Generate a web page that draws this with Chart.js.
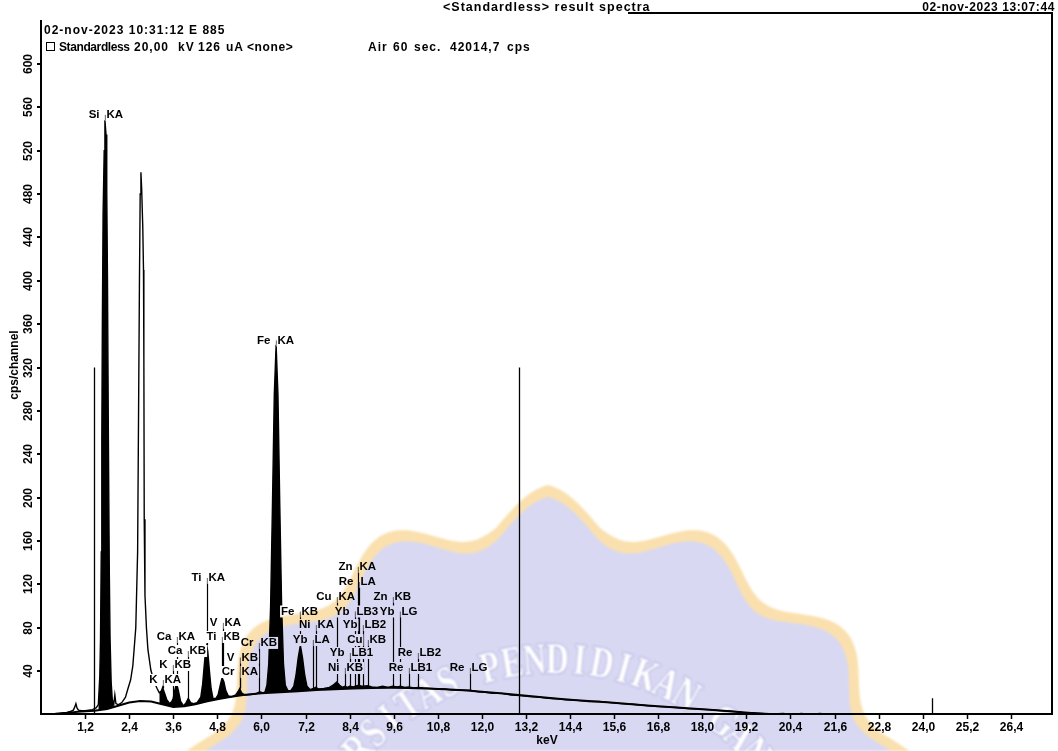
<!DOCTYPE html>
<html>
<head>
<meta charset="utf-8">
<title>Standardless result spectra</title>
<script src="https://cdn.jsdelivr.net/npm/chart.js@4.4.0/dist/chart.umd.min.js"></script>
<style>
  html, body { margin: 0; padding: 0; background: #fff; }
  #wrap { width: 1058px; height: 751px; }
</style>
</head>
<body>
<div id="wrap"><canvas id="spectrum" width="1058" height="751"></canvas></div>
<script>
// Measured spectrum: energy (keV) and intensity (cps/channel)
const spectrumKeV = [
  0.30, 0.40, 0.55, 0.70, 0.82, 0.88, 0.92, 0.95, 0.98, 1.02, 1.10, 1.20, 1.30, 1.40, 1.50, 1.56,
  1.60, 1.62, 1.64, 1.655, 1.67, 1.69, 1.72, 1.74, 1.77, 1.79, 1.81, 1.835, 1.86, 1.88, 1.91, 1.94, 1.98,
  2.01, 2.04, 2.10, 2.20, 2.30, 2.36, 2.44, 2.50, 2.58, 2.63, 2.66, 2.68, 2.70, 2.72, 2.74, 2.77,
  2.79, 2.80, 2.81, 2.83, 2.87, 2.91, 2.99, 3.08, 3.16, 3.22, 3.28, 3.31, 3.35, 3.42, 3.50, 3.56,
  3.60, 3.64, 3.69, 3.74, 3.80, 3.88, 3.95, 4.01, 4.07, 4.15, 4.25, 4.35, 4.40, 4.45, 4.49, 4.51,
  4.54, 4.58, 4.63, 4.68, 4.75, 4.82, 4.88, 4.93, 4.98, 5.03, 5.10, 5.20, 5.30, 5.36, 5.41, 5.46,
  5.55, 5.70, 5.85, 5.95, 6.05, 6.10, 6.15, 6.20, 6.25, 6.30, 6.35, 6.40, 6.45, 6.50, 6.55, 6.60,
  6.65, 6.72, 6.80, 6.88, 6.94, 7.00, 7.06, 7.12, 7.18, 7.24, 7.32, 7.42, 7.48, 7.56, 7.70, 7.85,
  7.95, 8.05, 8.13, 8.20, 8.27, 8.35, 8.40, 8.50, 8.60, 8.65, 8.75, 8.90, 9.00, 9.15, 9.30, 9.45,
  9.57, 9.70, 9.78, 9.90, 10.01, 10.15, 10.27, 10.40, 10.60, 10.80, 11.00, 11.20, 11.45, 11.68, 11.90, 12.10,
  12.30, 12.55, 12.80, 13.05, 13.30, 13.55, 13.80, 14.05, 14.30, 14.60, 14.90, 15.20, 15.50, 15.80, 16.10, 16.40,
  16.70, 17.00, 17.30, 17.60, 17.90, 18.20, 18.50, 18.80, 19.10, 19.40, 19.70, 19.95, 20.20, 20.45, 20.70, 20.95,
  21.20, 21.45
];
const spectrumCps = [
  0, 1, 1.5, 2, 3, 4, 7, 10, 6, 4, 3.5, 3.5, 4, 4.5, 6, 9,
  35, 70, 150, 253, 360, 461, 520, 548, 535, 483, 400, 253, 130, 70, 30, 14, 9,
  18, 10, 9, 11, 16, 23, 32, 45, 80, 150, 300, 400, 480, 500, 485, 450,
  410, 330, 180, 110, 80, 60, 41, 30, 24, 20, 22, 25, 21, 14, 10, 12,
  15, 22, 29, 22, 12, 8, 11, 15, 11, 10, 11, 16, 28, 48, 62, 64,
  58, 42, 24, 15, 14.5, 18, 27, 34, 30, 22, 17, 16.5, 18, 21, 24, 20,
  18, 18.5, 19, 21, 20, 21, 27, 47, 100, 193, 295, 341, 295, 193, 100, 47,
  27, 22, 22, 26, 36, 52, 64, 52, 36, 26, 23, 24, 25, 23.5, 24, 25,
  27, 30, 27, 25, 26, 25, 26, 25.5, 26.5, 27, 26, 26.5, 25.5, 25, 26, 25,
  26, 25.5, 26, 25, 25.5, 24.5, 25, 24.5, 24, 23.5, 23.5, 22.5, 22.5, 22.5, 21, 20.5,
  19.5, 19.5, 18, 17.5, 16.5, 16, 15, 14.5, 13.5, 13, 12, 12, 11, 10, 9.5, 8.5,
  7.5, 7, 6.5, 5.5, 5, 4.5, 3.5, 3, 2, 1.5, 1, 0.5, 1, 0, 1, 0,
  1, 0
];

// Fitted continuum (background) under the spectrum
const continuumKeV = [
  0.35, 0.6, 1.0, 1.45, 1.8, 2.1, 2.4, 2.7, 3.0, 3.3, 3.6, 3.9, 4.2, 4.5, 4.8, 5.1,
  5.5, 6.0, 6.5, 7.0, 7.5, 8.0, 8.5, 9.0, 9.5, 10.0, 10.5, 11.0, 11.5, 12.0, 12.5, 13.0,
  13.5, 14.0, 14.5, 15.0, 15.5, 16.0, 16.5, 17.0, 17.5, 18.0, 18.5, 19.0, 19.5, 19.9
];
const continuumCps = [
  0, 1, 2.5, 3.5, 5, 8, 11, 12.5, 12, 9.5, 7, 7.5, 9.5, 12, 14, 16,
  18, 19.5, 20.5, 21.5, 22.5, 23.3, 24, 24.4, 24.6, 24.5, 24, 23.2, 22.3, 21, 19.5, 18,
  16.3, 14.8, 13.4, 12.2, 11.0, 9.6, 8.3, 7.1, 6.0, 4.8, 3.6, 2.2, 1.0, 0
];

// Energy windows of the identified element peaks (shaded)
const identifiedWindowsKeV = [[1.56, 1.98], [3.22, 21.45]];

// Peak identification markers
const markerText = [
  'Si KA', 'Fe KA', 'Ti KA', 'V KA', 'Ti KB', 'Ca KA', 'Ca KB', 'K KB', 'K KA', 'V KB',
  'Cr KA', 'Cr KB', 'Fe KB', 'Ni KA', 'Yb LA', 'Ni KB', 'Cu KA', 'Cu KB', 'Zn KA', 'Re LA',
  'Zn KB', 'Yb LB3', 'Yb LB2', 'Yb LB1', 'Yb LG', 'Re LB2', 'Re LB1', 'Re LG'
];
const markerKeV = [
  1.740, 6.404, 4.511, 4.952, 4.932, 3.691, 4.012, 3.590, 3.314, 5.427,
  5.415, 5.947, 7.058, 7.478, 7.416, 8.265, 8.048, 8.905, 8.639, 8.652,
  9.572, 8.536, 8.759, 8.402, 9.780, 10.275, 10.010, 11.685
];
const markerLabelCps = [
  553, 345, 126, 84.5, 71.5, 71.5, 58.6, 45.7, 31.8, 52.5,
  39.2, 66, 95, 82.5, 68.7, 42.9, 108.4, 68.7, 136.1, 122.2,
  108.4, 95, 82.5, 56.7, 95, 56.7, 42.9, 42.9
];
const markerBaseCps = [
  548, 341, 64, 34, 34, 29, 15, 14, 24, 24,
  24, 21, 64, 25, 24, 26, 30, 26.5, 27, 27,
  26, 25.5, 26, 26, 26, 25, 25.5, 22.5
];

// Cursor positions
const cursorKeV = [1.45, 13.0, 24.25];
const cursorCps = [320, 320, 15];

// Axis ticks
const xTickKeV = [1.2, 2.4, 3.6, 4.8, 6.0, 7.2, 8.4, 9.6, 10.8, 12.0, 13.2, 14.4, 15.6, 16.8, 18.0, 19.2, 20.4, 21.6, 22.8, 24.0, 25.2, 26.4];
const xTickLabels = ['1,2', '2,4', '3,6', '4,8', '6,0', '7,2', '8,4', '9,6', '10,8', '12,0', '13,2', '14,4', '15,6', '16,8', '18,0', '19,2', '20,4', '21,6', '22,8', '24,0', '25,2', '26,4'];
const yTickCps = [40, 80, 120, 160, 200, 240, 280, 320, 360, 400, 440, 480, 520, 560, 600];
const yTickLabels = ['40', '80', '120', '160', '200', '240', '280', '320', '360', '400', '440', '480', '520', '560', '600'];

// Acquisition header: [text, x, letter spacing]
const headerTitle = ['<Standardless> result spectra', 443, 1.0];
const headerPrinted = ['02-nov-2023 13:07:44', 1055, 0.6];
const headerAcquired = ['02-nov-2023 10:31:12 E 885', 44, 1.0];
const headerConditions = [
  ['Standardless', 59, -0.4], ['20,00', 134, 1], ['kV', 178, 1], ['126', 198, 1], ['uA', 226, 1], ['<none>', 247, 0.6],
  ['Air', 368, 1], ['60', 393, 1], ['sec.', 414, 1], ['42014,7', 450, 1], ['cps', 507, 1]
];

// ---------------------------------------------------------------------------
const spectrumPts = spectrumKeV.map((e, i) => ({ x: e, y: spectrumCps[i] }));
const identified = e => identifiedWindowsKeV.some(([a, b]) => e >= a && e <= b);
const shadedPts = spectrumKeV.map((e, i) => ({ x: e, y: identified(e) ? spectrumCps[i] : null }));
const continuumPts = continuumKeV.map((e, i) => ({ x: e, y: continuumCps[i] }));

const FONT = '"Liberation Sans", Arial, sans-serif';

// Faint institutional emblem printed behind the report
function paintEmblem(g) {
  const cx = 548, cy = 900;
  const rim = inset => {
    g.beginPath();
    for (let d = -100; d <= 100; d += 0.5) {
      const a = d * Math.PI / 180;
      const r = 384 + 17 * Math.cos(15 * a) + 14 * Math.max(0, 1 - Math.abs(d) / 8) - inset;
      const x = cx + r * Math.sin(a), y = cy - r * Math.cos(a);
      if (d === -100) g.moveTo(x, y); else g.lineTo(x, y);
    }
    g.closePath();
  };
  g.fillStyle = 'rgb(250,224,174)'; rim(0); g.fill();
  g.fillStyle = 'rgb(216,216,243)'; rim(12); g.fill();
  const motto = 'UNIVERSITAS PENDIDIKAN GANESHA';
  const tx = 555, ty = 920, rBase = 247;
  g.font = 'bold 44px "Liberation Serif", serif';
  g.textAlign = 'center';
  g.textBaseline = 'alphabetic';
  g.fillStyle = '#fff';
  g.strokeStyle = 'rgb(178,178,226)';
  g.lineWidth = 2.2;
  for (let i = 0; i < motto.length; i++) {
    const a = (-14.4 + (i - 12) * 4.96) * Math.PI / 180;
    g.save();
    g.translate(tx + rBase * Math.sin(a), ty - rBase * Math.cos(a));
    g.rotate(a);
    g.scale(0.72, 1);
    g.strokeText(motto[i], 0, 0);
    g.fillText(motto[i], 0, 0);
    g.restore();
  }
}
const emblem = document.createElement('canvas');
emblem.width = 1058; emblem.height = 751;
paintEmblem(emblem.getContext('2d'));

const paper = {
  id: 'paper',
  beforeDraw(chart) {
    const c = chart.ctx;
    c.save();
    c.fillStyle = '#fff';
    c.fillRect(0, 0, chart.width, chart.height);
    c.restore();
  }
};

function spaced(c, text, x, y, spacing) {
  c.letterSpacing = spacing + 'px';
  c.fillText(text, x, y);
  c.letterSpacing = '0px';
}

const reportChrome = {
  id: 'reportChrome',
  afterDraw(chart) {
    const c = chart.ctx, xs = chart.scales.x, ys = chart.scales.y, a = chart.chartArea;
    c.save();
    c.strokeStyle = '#000';
    c.fillStyle = '#000';

    // frame
    c.lineWidth = 2;
    c.beginPath();
    c.moveTo(a.left, 20); c.lineTo(a.left, a.bottom + 0.5);
    c.moveTo(a.left - 1, a.bottom - 0.5); c.lineTo(a.right + 1, a.bottom - 0.5);
    c.moveTo(a.right, 12); c.lineTo(a.right, a.bottom + 0.5);
    c.moveTo(628, 13); c.lineTo(a.right + 1, 13);
    c.stroke();

    // y ticks + rotated labels
    c.font = 'bold 12px ' + FONT;
    c.textAlign = 'center';
    c.textBaseline = 'middle';
    yTickCps.forEach((v, i) => {
      const y = Math.round(ys.getPixelForValue(v));
      c.lineWidth = 2;
      c.beginPath(); c.moveTo(a.left - 4, y); c.lineTo(a.left, y); c.stroke();
      c.save();
      c.translate(29, y);
      c.rotate(-Math.PI / 2);
      c.fillText(yTickLabels[i], 0, 0);
      c.restore();
    });
    // x ticks + labels
    xTickKeV.forEach((e, i) => {
      const x = Math.round(xs.getPixelForValue(e)) + 0.5;
      c.lineWidth = 1.5;
      c.beginPath(); c.moveTo(x, a.bottom); c.lineTo(x, a.bottom + 4.5); c.stroke();
      c.fillText(xTickLabels[i], x, a.bottom + 13.5);
    });
    // axis titles
    c.fillText('keV', 547, 741);
    c.save();
    c.translate(15, 365);
    c.rotate(-Math.PI / 2);
    c.fillText('cps/channel', 0, 0);
    c.restore();

    // cursors
    c.lineWidth = 1.3;
    cursorKeV.forEach((e, i) => {
      const x = Math.round(xs.getPixelForValue(e)) + 0.5;
      c.beginPath(); c.moveTo(x, ys.getPixelForValue(0)); c.lineTo(x, ys.getPixelForValue(cursorCps[i])); c.stroke();
    });

    // marker leader lines
    c.lineWidth = 1.2;
    markerKeV.forEach((e, i) => {
      const x = Math.round(xs.getPixelForValue(e)) + 0.5;
      c.beginPath();
      c.moveTo(x, ys.getPixelForValue(markerLabelCps[i]));
      c.lineTo(x, ys.getPixelForValue(markerBaseCps[i]));
      c.stroke();
    });
    // marker labels: element left of the line, transition right of it
    c.textBaseline = 'middle';
    c.font = 'bold 11.5px ' + FONT;
    markerKeV.forEach((e, i) => {
      const x = Math.round(xs.getPixelForValue(e)) + 0.5;
      const y = ys.getPixelForValue(markerLabelCps[i]);
      const [el, tr] = markerText[i].split(' ');
      const wEl = c.measureText(el).width, wTr = c.measureText(tr).width;
      c.fillStyle = '#fff';
      c.fillRect(x - 6 - wEl - 1, y - 6, wEl + 2, 12);
      c.fillRect(x, y - 6, wTr + 2, 12);
      c.fillStyle = '#000';
      c.textAlign = 'right';
      c.fillText(el, x - 6, y);
      c.textAlign = 'left';
      c.fillText(tr, x + 1, y);
    });

    // header
    c.textBaseline = 'alphabetic';
    c.textAlign = 'left';
    c.font = 'bold 12.5px ' + FONT;
    spaced(c, headerTitle[0], headerTitle[1], 11, headerTitle[2]);
    c.font = 'bold 12px ' + FONT;
    c.textAlign = 'right';
    spaced(c, headerPrinted[0], headerPrinted[1], 11, headerPrinted[2]);
    c.textAlign = 'left';
    spaced(c, headerAcquired[0], headerAcquired[1], 34, headerAcquired[2]);
    c.lineWidth = 1;
    c.strokeRect(46.5, 42.5, 8, 8);
    headerConditions.forEach(([t, x, s]) => spaced(c, t, x, 51, s));

    // emblem overlay
    c.globalCompositeOperation = 'multiply';
    c.filter = 'blur(0.8px)';
    c.drawImage(emblem, 0, 0);
    c.restore();
  }
};

new Chart(document.getElementById('spectrum'), {
  type: 'line',
  data: {
    datasets: [
      { data: shadedPts, borderWidth: 0, backgroundColor: '#000', fill: 'origin', spanGaps: false, order: 4 },
      { data: continuumPts, borderWidth: 0, backgroundColor: '#fff', fill: 'origin', order: 3 },
      { data: continuumPts, borderColor: '#000', borderWidth: 2, fill: false, order: 2 },
      { data: spectrumPts, borderColor: '#000', borderWidth: 1.4, fill: false, order: 1 }
    ]
  },
  options: {
    responsive: false,
    animation: false,
    devicePixelRatio: 1,
    events: [],
    layout: { padding: { left: 41, right: 6, top: 13.3, bottom: 36.5 } },
    elements: { point: { radius: 0 }, line: { tension: 0 } },
    plugins: { legend: { display: false }, tooltip: { enabled: false } },
    scales: {
      x: { type: 'linear', min: 0, max: 27.52, display: false },
      y: { type: 'linear', min: 0, max: 646.7, display: false }
    }
  },
  plugins: [paper, reportChrome]
});
</script>
</body>
</html>
